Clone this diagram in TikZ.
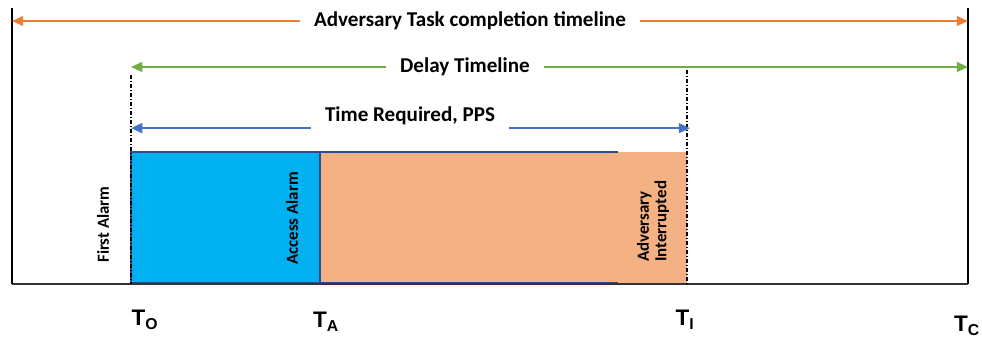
\documentclass[tikz,border=0pt]{standalone}
\usepackage{fontspec}
\setmainfont{Carlito}
\newfontfamily\markfont{Liberation Sans}
\usepackage{xcolor}
\definecolor{taskorange}{HTML}{ED7D31}
\definecolor{delaygreen}{HTML}{70AD47}
\definecolor{ppsblue}{HTML}{4472C4}
\definecolor{alarmblue}{HTML}{00B0F0}
\definecolor{delayfill}{HTML}{F4B183}
\definecolor{edgeblue}{HTML}{2F4C8A}
\usepackage{tikz}
\usetikzlibrary{arrows.meta, positioning, calc}

\begin{document}
\begin{tikzpicture}[x=0.025cm, y=-0.025cm,
    timeline/.style={line width=1.3pt, -{Triangle[length=8pt,width=7pt]}},
    phase/.style={font=\bfseries\fontsize{15}{17}\selectfont, inner ysep=2pt, inner xsep=10pt},
    event/.style={font=\bfseries\fontsize{12}{12.5}\selectfont, rotate=90, anchor=west, align=left, inner sep=0pt},
    tmark/.style={font=\markfont\bfseries\fontsize{16}{18}\selectfont, inner sep=0pt},
    marker/.style={line width=0.8pt, dash pattern=on 3pt off 1.2pt on 1pt off 1.2pt}]
  \useasboundingbox (0,0) rectangle (982,341);
  % Time points on the base line
  \coordinate (Tstart) at (12,284);
  \coordinate (To) at (131,284);
  \coordinate (Ta) at (320,284);
  \coordinate (Ti) at (687,284);
  \coordinate (Tc) at (968,284);
  % Boxes
  \fill[delayfill] (320,152) rectangle (Ti);
  \draw[edgeblue, line width=1.2pt] (320,152) -- (618,152);
  \draw[edgeblue, line width=1.2pt] (320,283) -- (618,283);
  \filldraw[fill=alarmblue, draw=edgeblue, line width=1.2pt] (131,152) rectangle (320,283);
  % Base line and outer limits
  \draw[black!80, line width=1.4pt] (Tstart) -- (Tc);
  \draw[black, line width=1.3pt] (12,8) coordinate (leftedge) -- (Tstart);
  \draw[black, line width=1.3pt] (968,8) coordinate (rightedge) -- (Tc);
  % Dashed markers
  \draw[marker] (131,75) -- (To);
  \draw[marker] (687,70) -- (Ti);
  % Adversary task completion timeline
  \node[phase] (tasklbl) at (470,21) {Adversary Task completion timeline};
  \draw[timeline, taskorange] (tasklbl.west) -- (tasklbl.west -| leftedge);
  \draw[timeline, taskorange] (tasklbl.east) -- (tasklbl.east -| rightedge);
  % Delay timeline
  \node[phase] (delaylbl) at (465,67) {Delay Timeline};
  \draw[timeline, delaygreen] (delaylbl.west) -- (delaylbl.west -| To);
  \draw[timeline, delaygreen] (delaylbl.east) -- (delaylbl.east -| rightedge);
  % Time required, PPS
  \node[phase] (ppslbl) at (410,116) {Time Required, PPS};
  \draw[timeline, ppsblue] (ppslbl.south west) -- (ppslbl.south west -| To);
  \draw[timeline, ppsblue] (ppslbl.south east) -- ($(ppslbl.south east -| Ti)+(3,0)$);
  % Events
  \node[event] (firstalarm) at (103,263) {First Alarm};
  \node[event] (accessalarm) at (292,265) {Access Alarm};
  \node[event] (interrupted) at (653,262) {Adversary\\Interrupted};
  % Time labels
  \node[tmark] (lblo) at (145,320) {T\textsubscript{O}};
  \node[tmark] (lbla) at (326,322) {T\textsubscript{A}};
  \node[tmark] (lbli) at (685,320) {T\textsubscript{I}};
  \node[tmark] (lblc) at (967,326) {T\textsubscript{C}};
\end{tikzpicture}
\end{document}
